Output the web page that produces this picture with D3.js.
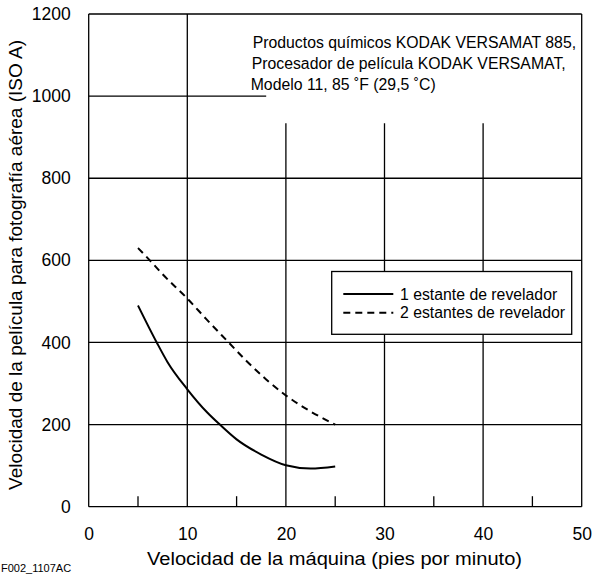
<!DOCTYPE html>
<html><head><meta charset="utf-8">
<script src="https://cdn.jsdelivr.net/npm/d3@7"></script>
<style>body{margin:0;background:#fff}svg{display:block}text{font-family:"Liberation Sans",Arial,sans-serif;fill:#000}</style>
</head><body><svg id="c" width="592" height="577"></svg>
<script>
const xTicks = [0, 10, 20, 30, 40, 50];
const yTicks = [0, 200, 400, 600, 800, 1000, 1200];
const xMinorTicks = [5, 15, 25, 35, 45];
const oneRackX = [5, 6.9, 8, 10, 12, 13.3, 15, 17.5, 20, 22.5, 25];
const oneRackY = [490, 400, 352, 286, 230, 200, 164, 127, 101, 93, 98];
const twoRackX = [5, 6.2, 7.5, 10, 12, 14.2, 16, 18, 20, 22.5, 25];
const twoRackY = [630, 600, 566, 507, 455, 400, 355, 310, 271, 232, 200];
const seriesNames = ["1 estante de revelador", "2 estantes de revelador"];
const noteLines = ["Productos químicos KODAK VERSAMAT 885,", "Procesador de película KODAK VERSAMAT,", "Modelo 11, 85 ˚F (29,5 ˚C)"];
const xTitle = "Velocidad de la máquina (pies por minuto)";
const yTitle = "Velocidad de la película para fotografía aérea (ISO A)";
const figCode = "F002_1107AC";

const svg = d3.select("#c");
const x = d3.scaleLinear().domain([0, 50]).range([88.7, 581.7]);
const y = d3.scaleLinear().domain([0, 1200]).range([506.7, 14]);
const g = svg.append("g");
const sw = 1.3;

// horizontal grid
yTicks.forEach(v => {
  const x2 = v === 1000 ? x(18) : x(50);
  g.append("line").attr("x1", x(0)).attr("x2", x2).attr("y1", y(v)).attr("y2", y(v))
    .attr("stroke", "#000").attr("stroke-width", sw);
});
// vertical grid
xTicks.forEach(v => {
  const yTop = (v === 0 || v === 10 || v === 50) ? y(1200) : 123.3;
  g.append("line").attr("x1", x(v)).attr("x2", x(v)).attr("y1", y(0)).attr("y2", yTop)
    .attr("stroke", "#000").attr("stroke-width", sw);
});
// minor ticks
xMinorTicks.forEach(v => {
  g.append("line").attr("x1", x(v)).attr("x2", x(v)).attr("y1", y(0)).attr("y2", y(0) - 10.5)
    .attr("stroke", "#000").attr("stroke-width", sw);
});

// axes labels via d3 axes (tick text only)
const xAxis = svg.append("g").attr("transform", `translate(0,${y(0)})`)
  .call(d3.axisBottom(x).tickValues(xTicks).tickSize(0).tickPadding(21));
const yAxis = svg.append("g").attr("transform", `translate(${x(0)},0)`)
  .call(d3.axisLeft(y).tickValues(yTicks).tickSize(0).tickPadding(18).tickFormat(d3.format("d")));
[xAxis, yAxis].forEach(a => {
  a.select(".domain").remove();
  a.selectAll("text").style("font-size", "17.5px").style("font-family", '"Liberation Sans",Arial,sans-serif');
});

// curves
const line = d3.line().x(d => x(d[0])).y(d => y(d[1])).curve(d3.curveMonotoneX);
const s1 = oneRackX.map((v, i) => [v, oneRackY[i]]);
const s2 = twoRackX.map((v, i) => [v, twoRackY[i]]);
g.append("path").attr("d", line(s1)).attr("fill", "none").attr("stroke", "#000").attr("stroke-width", 2);
g.append("path").attr("d", line(s2)).attr("fill", "none").attr("stroke", "#000").attr("stroke-width", 2)
  .attr("stroke-dasharray", "7,5");

// legend
const lg = svg.append("g");
lg.append("rect").attr("x", 331.7).attr("y", 271.5).attr("width", 240).attr("height", 62.8)
  .attr("fill", "#fff").attr("stroke", "#000").attr("stroke-width", sw);
[0, 1].forEach(i => {
  const yy = 294 + i * 18.7;
  lg.append("line").attr("x1", 343.3).attr("x2", 393.3).attr("y1", yy).attr("y2", yy)
    .attr("stroke", "#000").attr("stroke-width", 2).attr("stroke-dasharray", i ? "7,5" : null);
  lg.append("text").attr("x", 400).attr("y", yy + 5.5).style("font-size", "15.8px").text(seriesNames[i]);
});

// note
const noteX = [252.7, 251.7, 250.7];
noteLines.forEach((t, i) => {
  svg.append("text").attr("x", noteX[i]).attr("y", 48 + i * 20.8).style("font-size", "15.8px").text(t);
});

// titles
svg.append("text").attr("x", 334.5).attr("y", 565).attr("text-anchor", "middle").style("font-size", "17.5px")
  .attr("textLength", 375).attr("lengthAdjust", "spacingAndGlyphs").text(xTitle);
svg.append("text").attr("transform", `translate(22,265) rotate(-90)`)
  .attr("text-anchor", "middle").style("font-size", "17.5px")
  .attr("textLength", 450).attr("lengthAdjust", "spacingAndGlyphs").text(yTitle);
svg.append("text").attr("x", 1).attr("y", 572).style("font-size", "11px").text(figCode);
</script></body></html>
